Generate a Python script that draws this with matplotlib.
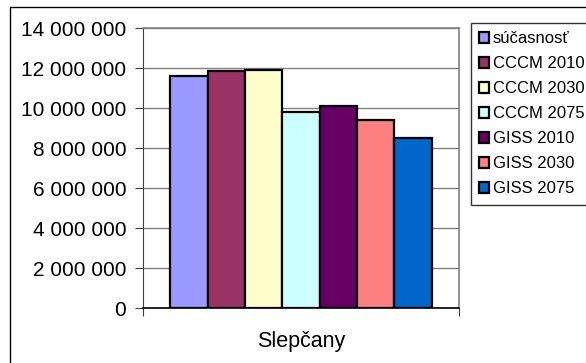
import matplotlib.pyplot as plt
from matplotlib.patches import Rectangle
from matplotlib.ticker import FuncFormatter

plt.rcParams['font.family'] = ['Liberation Sans', 'DejaVu Sans']

# údaje pre jednu lokalitu
category = 'Slepčany'
series = ['súčasnosť', 'CCCM 2010', 'CCCM 2030', 'CCCM 2075',
          'GISS 2010', 'GISS 2030', 'GISS 2075']
values = [11600000, 11830000, 11920000, 9800000, 10100000, 9400000, 8500000]
colors = ['#9999ff', '#993366', '#ffffcc', '#ccffff',
          '#660066', '#ff8080', '#0066cc']

fig = plt.figure(figsize=(5.86, 3.63), dpi=100)
W, H = 586, 363
ax = fig.add_axes([143 / W, 1 - 308 / H, 316 / W, 280 / H])

# vonkajší rám grafu (pravá a spodná strana sú mimo obrázka)
fig.patches.append(Rectangle((10 / W, -10 / H), 600 / W, (363 - 7 + 10) / H,
                             transform=fig.transFigure, fill=False,
                             edgecolor='black', linewidth=1.0))

bw = 0.118
start = -bw * len(series) / 2
for i, (name, v, c) in enumerate(zip(series, values, colors)):
    ax.bar(start + bw * (i + 0.5), v, width=bw, color=c,
           edgecolor='black', linewidth=1.6, label=name, zorder=3)

ax.set_xlim(-0.5, 0.5)
ax.set_ylim(0, 14000000)
ax.set_yticks(range(0, 14000001, 2000000))
ax.yaxis.set_major_formatter(FuncFormatter(lambda v, p: f'{int(v):,}'.replace(',', ' ')))
ax.set_xticks([-0.5, 0.5])
ax.set_xticklabels(['', ''])
ax.text(0, -0.12, category, transform=ax.get_xaxis_transform(),
        ha='center', va='center', fontsize=15.5)

ax.grid(axis='y', color='#808080', linewidth=1.0, zorder=0)
for s in ['top', 'right']:
    ax.spines[s].set_color('#808080')
    ax.spines[s].set_linewidth(1.2)
ax.spines['left'].set_color('#404040')
ax.spines['bottom'].set_color('black')
ax.spines['bottom'].set_linewidth(1.2)
ax.tick_params(axis='y', direction='out', length=6, labelsize=15, pad=6, color='#404040')
ax.tick_params(axis='x', direction='out', length=6, color='#404040')

leg = fig.legend(loc='upper left', bbox_to_anchor=(471 / W, 1 - 23 / H),
                 frameon=True, fancybox=False, fontsize=12,
                 handlelength=0.6, handleheight=0.6, handletextpad=0.2,
                 labelspacing=0.6, borderpad=0.5, borderaxespad=0)
leg.get_frame().set_edgecolor('black')
leg.get_frame().set_linewidth(1.0)

fig.savefig('out.png', dpi=100)
